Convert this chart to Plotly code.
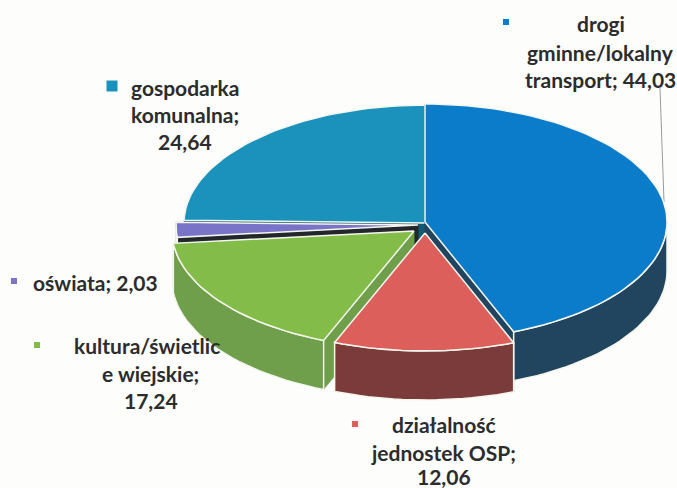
import math
import plotly.graph_objects as go

# Data
categories = ["drogi gminne/lokalny transport", "działalność jednostek OSP",
              "kultura/świetlice wiejskie", "oświata", "gospodarka komunalna"]
values = [44.03, 12.06, 17.24, 2.03, 24.64]

# Styling
top_colors = ["#0b7cc9", "#dc5f5c", "#84bc49", "#7a74c8", "#1a92bc"]
side_colors = ["#21445f", "#7a3b3a", "#6f9f4a", "#23262b", "#125a72"]
explode_dx = [0, 0, -11, -7, 1]
explode_dy = [0, 11, 9, 3, 1]
draw_order = [4, 3, 0, 2, 1]
CX, CY, RX, RY, DEPTH = 425, 222, 242, 118, 49

# Label text lines: (text, x, y)
label_lines = [
    ("drogi", 601, 23), ("gminne/lokalny", 600, 52), ("transport; 44,03", 600, 79),
    ("gospodarka", 185, 87), ("komunalna;", 185, 114), ("24,64", 185, 141),
    ("oświata; 2,03", 95, 282),
    ("kultura/świetlic", 147, 345), ("e wiejskie;", 150, 373), ("17,24", 151, 400),
    ("działalność", 444, 424), ("jednostek OSP;", 443, 452), ("12,06", 444, 476),
]
key_x = [506, 112, 14, 37, 355]
key_y = [22, 86, 281, 345, 424]
key_size = [7, 12, 7, 7, 7]
key_colors = ["#0b7cc9", "#1a92bc", "#7a74c8", "#84bc49", "#dc5f5c"]

fig = go.Figure()


def pt(cx, cy, ang):
    r = math.radians(ang)
    return cx + RX * math.sin(r), cy - RY * math.cos(r)


def poly(xs, ys, fill, width=1.5):
    fig.add_trace(go.Scatter(x=xs + xs[:1], y=ys + ys[:1], mode="lines", fill="toself",
                             fillcolor=fill,
                             line=dict(color="#f4f6ee" if width else fill, width=width or 0.5),
                             hoverinfo="skip", showlegend=False))


total = sum(values)
starts, acc = [], 0.0
for v in values:
    starts.append(acc / total * 360)
    acc += v

for i in draw_order:
    a0 = starts[i]
    a1 = a0 + values[i] / total * 360
    cx, cy = CX + explode_dx[i], CY + explode_dy[i]
    steps = max(2, int((a1 - a0) / 2))
    angs = [a0 + (a1 - a0) * k / steps for k in range(steps + 1)]
    rim = [pt(cx, cy, a) for a in angs]
    rx, ry = [p[0] for p in rim], [p[1] for p in rim]

    # radial inner walls
    for a in (a0, a1):
        ex, ey = pt(cx, cy, a)
        poly([cx, ex, ex, cx], [cy, ey, ey + DEPTH, cy + DEPTH], side_colors[i], 0)
    # outer wall on the front half of the pie
    front = [p for p, a in zip(rim, angs) if 90 <= a <= 270]
    if len(front) > 1:
        fx, fy = [p[0] for p in front], [p[1] for p in front]
        poly(fx + fx[::-1], fy + [y + DEPTH for y in fy[::-1]], side_colors[i])
    # top face
    poly([cx] + rx, [cy] + ry, top_colors[i])

fig.add_trace(go.Scatter(x=key_x, y=key_y, mode="markers",
                         marker=dict(symbol="square", size=key_size, color=key_colors, opacity=1),
                         hoverinfo="skip", showlegend=False))

for text, x, y in label_lines:
    fig.add_annotation(x=x, y=y, text=f"<b>{text}</b>", showarrow=False, xanchor="center",
                       yanchor="middle", font=dict(family="Lato", size=21, color="#2c2c2c"))

fig.add_shape(type="line", x0=660, y0=88, x1=664, y1=202, layer="below",
              line=dict(color="#9a9a9a", width=1))

fig.update_layout(
    width=677, height=488, margin=dict(l=0, r=0, t=0, b=0),
    paper_bgcolor="#fdfdfb", plot_bgcolor="#fdfdfb", showlegend=False,
    xaxis=dict(range=[0, 677], visible=False, fixedrange=True),
    yaxis=dict(range=[488, 0], visible=False, fixedrange=True),
)
fig.write_html("out.html", config={"displayModeBar": False},
               post_script="document.body.style.margin='0';document.documentElement.style.background='#fdfdfb';")
